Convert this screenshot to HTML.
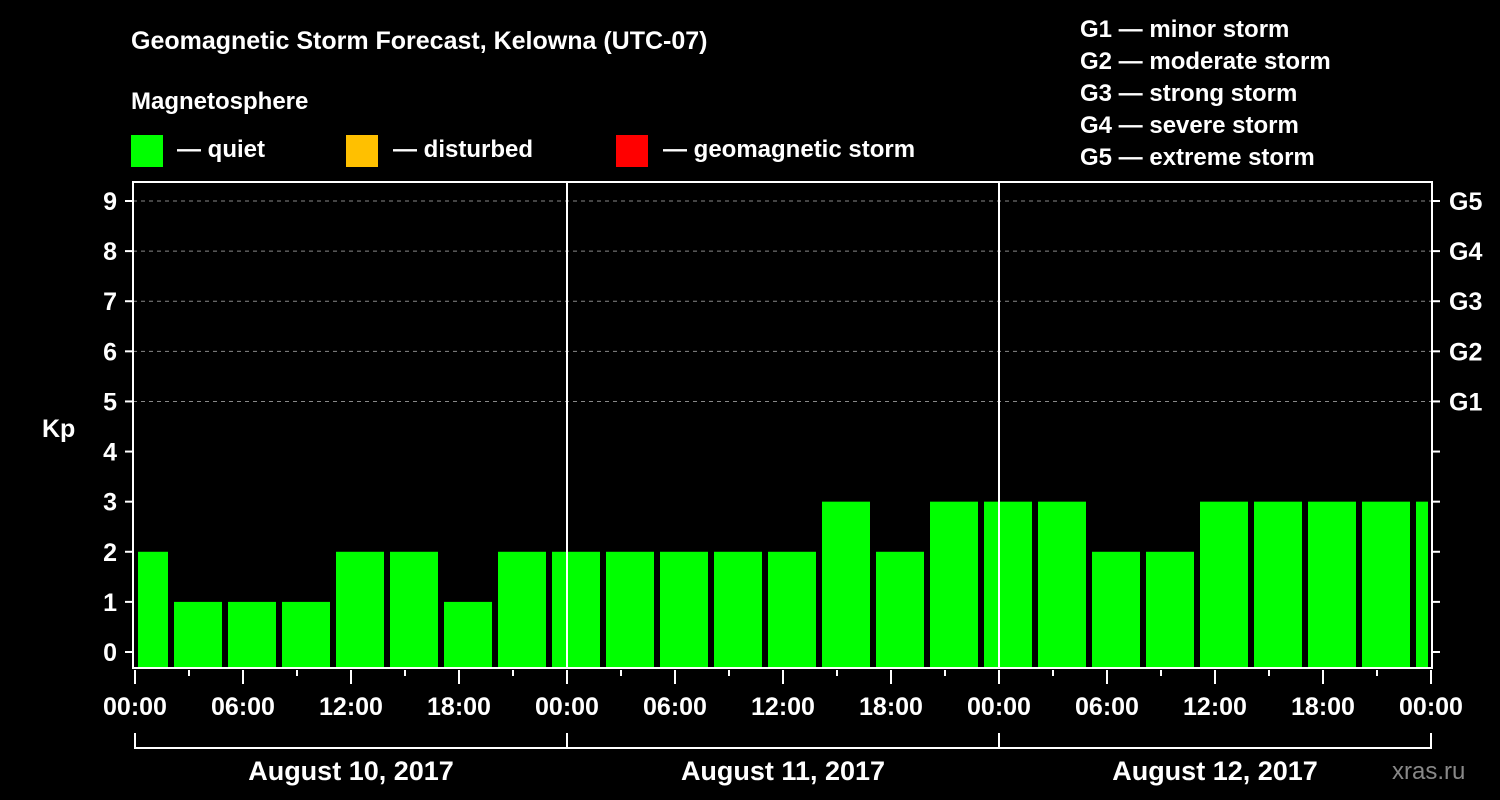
<!DOCTYPE html>
<html><head><meta charset="utf-8"><style>
body{margin:0;background:#000;}
svg{display:block;font-family:"Liberation Sans",Arial,sans-serif;font-weight:bold;}
</style></head><body>
<svg width="1500" height="800" viewBox="0 0 1500 800">
<rect width="1500" height="800" fill="#000"/>
<text x="131" y="49" fill="#fff" font-size="25">Geomagnetic Storm Forecast, Kelowna (UTC-07)</text>
<text x="131" y="109" fill="#fff" font-size="24">Magnetosphere</text>
<g><rect x="131" y="135" width="32" height="32" fill="#00ff00"/><text x="177" y="157" fill="#fff" font-size="24">— quiet</text></g>
<g><rect x="346" y="135" width="32" height="32" fill="#ffc000"/><text x="393" y="157" fill="#fff" font-size="24">— disturbed</text></g>
<g><rect x="616" y="135" width="32" height="32" fill="#ff0000"/><text x="663" y="157" fill="#fff" font-size="24">— geomagnetic storm</text></g>
<g fill="#fff" font-size="24">
<text x="1080" y="37">G1 — minor storm</text>
<text x="1080" y="69">G2 — moderate storm</text>
<text x="1080" y="101">G3 — strong storm</text>
<text x="1080" y="133">G4 — severe storm</text>
<text x="1080" y="165">G5 — extreme storm</text>
</g>
<text x="42" y="437" fill="#fff" font-size="25">Kp</text>
<text x="1392" y="779" fill="#888" font-size="24" font-weight="normal">xras.ru</text>
<g id="grid"></g>
<g id="bars"></g>
<g id="axes"></g>
</svg>
<script>
const kpValues=[2,1,1,1,2,2,1,2, 2,2,2,2,2,3,2,3, 3,3,2,2,3,3,3,3,3];
const barStartHours=[-1,2,5,8,11,14,17,20,23,26,29,32,35,38,41,44,47,50,53,56,59,62,65,68,71];
const hourTickLabels=["00:00","06:00","12:00","18:00","00:00","06:00","12:00","18:00","00:00","06:00","12:00","18:00","00:00"];
const dayLabels=["August 10, 2017","August 11, 2017","August 12, 2017"];
const gLabels=["G1","G2","G3","G4","G5"];
const NS="http://www.w3.org/2000/svg";
const L=133,R=1432,T=182,B=668;
const X=h=>135+h*(1431-135)/72;
const Y=v=>652-v*(652-201)/9;
function mk(p,tag,a){const e=document.createElementNS(NS,tag);for(const k in a)e.setAttribute(k,a[k]);p.appendChild(e);return e;}
const grid=document.getElementById('grid'),bars=document.getElementById('bars'),axes=document.getElementById('axes');
for(let v=5;v<=9;v++){const l=mk(grid,'line',{x1:L,x2:R,y1:Y(v),y2:Y(v),stroke:'#888','stroke-dasharray':'4,4','stroke-width':1});

}
kpValues.forEach((v,i)=>{const h=barStartHours[i];
let x1=Math.max(X(h),X(0))+3,x2=Math.min(X(h+3)-3,R-4);
const r=mk(bars,'rect',{x:x1,y:Y(v),width:x2-x1,height:B-Y(v),fill:v>=5?'#ff0000':(v>=4?'#ffc000':'#00ff00')});

});
mk(axes,'rect',{x:L,y:T,width:R-L,height:B-T,fill:'none',stroke:'#fff','stroke-width':2});
[24,48].forEach(h=>{mk(axes,'line',{x1:X(h),x2:X(h),y1:T,y2:B,stroke:'#fff','stroke-width':2});});
for(let v=0;v<=9;v++){const y=Y(v);
mk(axes,'line',{x1:L-8,x2:L,y1:y,y2:y,stroke:'#fff','stroke-width':2});
mk(axes,'line',{x1:R,x2:R+8,y1:y,y2:y,stroke:'#fff','stroke-width':2});
const t=mk(axes,'text',{x:117,y:y+9,fill:'#fff','font-size':25,'text-anchor':'end'});t.textContent=v;

}
gLabels.forEach((g,i)=>{const t=mk(axes,'text',{x:1449,y:Y(5+i)+9,fill:'#fff','font-size':25});t.textContent=g;

});
for(let h=0;h<=72;h+=3){const major=h%6===0;
mk(axes,'line',{x1:X(h),x2:X(h),y1:B+2,y2:B+(major?16:8),stroke:'#fff','stroke-width':2});}
hourTickLabels.forEach((s,i)=>{const t=mk(axes,'text',{x:X(i*6),y:715,fill:'#fff','font-size':25,'text-anchor':'middle'});t.textContent=s;

});
mk(axes,'path',{d:`M${X(0)} 733V748H${X(72)}V733M${X(24)} 733V748M${X(48)} 733V748`,fill:'none',stroke:'#fff','stroke-width':2});
dayLabels.forEach((s,i)=>{const t=mk(axes,'text',{x:X(i*24+12),y:780,fill:'#fff','font-size':27,'text-anchor':'middle'});t.textContent=s;

});
</script>
</body></html>
